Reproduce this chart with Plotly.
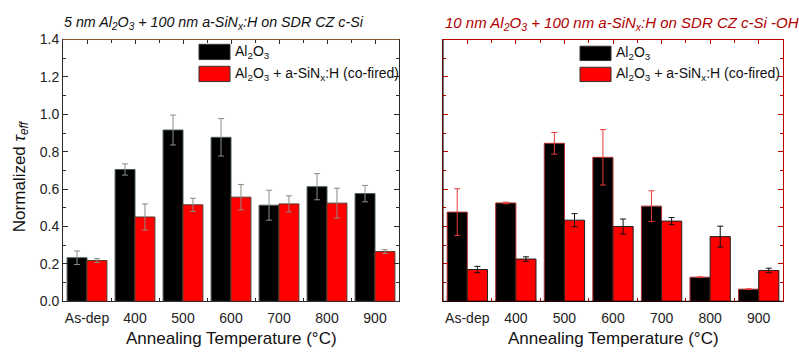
import plotly.graph_objects as go

categories = ["As-dep", "400", "500", "600", "700", "800", "900"]

# Left panel: 5 nm Al2O3
left_al2o3 = [0.233, 0.705, 0.916, 0.877, 0.514, 0.613, 0.576]
left_al2o3_err = [0.036, 0.03, 0.08, 0.10, 0.08, 0.07, 0.044]
left_cofired = [0.218, 0.451, 0.516, 0.557, 0.521, 0.525, 0.266]
left_cofired_err = [0.01, 0.07, 0.035, 0.068, 0.043, 0.08, 0.01]

# Right panel: 10 nm Al2O3, -OH
right_al2o3 = [0.477, 0.526, 0.845, 0.770, 0.509, 0.129, 0.065]
right_al2o3_err = [0.125, 0.004, 0.058, 0.148, 0.082, 0.002, 0.002]
right_cofired = [0.170, 0.226, 0.434, 0.400, 0.429, 0.346, 0.165]
right_cofired_err = [0.017, 0.012, 0.035, 0.04, 0.019, 0.056, 0.012]

yticks = [0.0, 0.2, 0.4, 0.6, 0.8, 1.0, 1.2, 1.4]

W, H = 799, 359
def px(x):
    return x / W
def py(y):
    return 1 - y / H

xpos = list(range(len(categories)))
FONT = "Liberation Sans, Arial, sans-serif"
RED = "#ff0000"

fig = go.Figure()

fig.add_trace(go.Bar(x=xpos, y=left_al2o3, marker=dict(color="#000000", line=dict(color="#4a5a55", width=1)),
                     error_y=dict(type="data", array=left_al2o3_err, color="#8a9088", thickness=1, width=3),
                     xaxis="x", yaxis="y", showlegend=False))
fig.add_trace(go.Bar(x=xpos, y=left_cofired, marker=dict(color=RED, line=dict(color="#5a3a2a", width=1)),
                     error_y=dict(type="data", array=left_cofired_err, color="#8a8a80", thickness=1, width=3),
                     xaxis="x", yaxis="y", showlegend=False))
fig.add_trace(go.Bar(x=xpos, y=right_al2o3, marker=dict(color="#000000", line=dict(color="#b03030", width=1)),
                     error_y=dict(type="data", array=right_al2o3_err, color="#e83a3a", thickness=1, width=3),
                     xaxis="x2", yaxis="y2", showlegend=False))
fig.add_trace(go.Bar(x=xpos, y=right_cofired, marker=dict(color=RED, line=dict(color="#202020", width=1)),
                     error_y=dict(type="data", array=right_cofired_err, color="#111111", thickness=1, width=3),
                     xaxis="x2", yaxis="y2", showlegend=False))

ydom = [py(307), py(33)]
common_x = dict(range=[-0.5, 6.5], tickvals=xpos, ticktext=categories, ticks="inside", ticklen=4,
                showline=True, mirror="allticks", showgrid=False, zeroline=False,
                tickfont=dict(family=FONT, size=14, color="#222"), ticklabelstandoff=4,
                minor=dict(dtick=0.5, tick0=0, ticks="inside", ticklen=3, showgrid=False),
                layer="below traces")
common_y = dict(range=[0, 1.4], tickvals=yticks, ticks="inside", ticklen=5, showline=True,
                mirror="allticks", showgrid=False, zeroline=False,
                minor=dict(dtick=0.1, tick0=0, ticks="inside", ticklen=3, showgrid=False),
                domain=ydom)

fig.update_layout(
    width=W, height=H, margin=dict(l=0, r=0, t=0, b=0),
    paper_bgcolor="white", plot_bgcolor="white",
    barmode="group", bargap=0.17, bargroupgap=0,
    font=dict(family=FONT, color="#111"),
    xaxis=dict(domain=[px(63), px(399)], anchor="y", linecolor="#2a2a2a", tickcolor="#2a2a2a",
               **common_x),
    yaxis=dict(anchor="x", linecolor="#2a2a2a", tickcolor="#2a2a2a", tickformat=".1f",
               tickfont=dict(family=FONT, size=14, color="#222"), **common_y),
    xaxis2=dict(domain=[px(443), px(783)], anchor="y2", linecolor="#c00000", tickcolor="#c00000",
                **common_x),
    yaxis2=dict(anchor="x2", linecolor="#c00000", tickcolor="#c00000", showticklabels=False,
                **common_y),
)

# frame tweaks: brownish top line on left, black left/bottom lines on right panel
fig.add_shape(type="line", xref="x domain", yref="y domain", x0=0, x1=1, y0=1, y1=1,
              line=dict(color="#8b5a2b", width=1))
fig.add_shape(type="line", xref="x2 domain", yref="y2 domain", x0=0, x1=0, y0=0, y1=1,
              line=dict(color="#000000", width=1))
fig.add_shape(type="line", xref="x2 domain", yref="y2 domain", x0=0, x1=1, y0=0, y1=0,
              line=dict(color="#000000", width=1))

# titles
fig.add_annotation(text="<i>5 nm Al<sub>2</sub>O<sub>3</sub> + 100 nm a-SiN<sub>x</sub>:H on SDR CZ c-Si</i>",
                   xref="paper", yref="paper", x=px(62), y=py(16), xanchor="left", yanchor="middle",
                   showarrow=False, font=dict(family=FONT, size=14.3, color="#111"))
fig.add_annotation(text="<i>10 nm Al<sub>2</sub>O<sub>3</sub> + 100 nm a-SiN<sub>x</sub>:H on SDR CZ c-Si -OH</i>",
                   xref="paper", yref="paper", x=px(443), y=py(16), xanchor="left", yanchor="middle",
                   showarrow=False, font=dict(family=FONT, size=15, color="#b00000"))

# axis titles
fig.add_annotation(text="Normalized <i>τ<sub>eff</sub></i>", textangle=-90,
                   xref="paper", yref="paper", x=px(21), y=py(176), xanchor="center", yanchor="middle",
                   showarrow=False, font=dict(family=FONT, size=17, color="#111"))
for cx in (232, 613):
    fig.add_annotation(text="Annealing Temperature (°C)", xref="paper", yref="paper",
                       x=px(cx), y=py(346), xanchor="center", yanchor="middle",
                       showarrow=False, font=dict(family=FONT, size=17, color="#111"))

# legends
legend_items = [
    (199, 230, 38, 54, "#000000", "Al<sub>2</sub>O<sub>3</sub>", 233),
    (199, 230, 61, 77, RED, "Al<sub>2</sub>O<sub>3</sub> + a-SiN<sub>x</sub>:H (co-fired)", 233),
    (580, 611, 40, 55, "#000000", "Al<sub>2</sub>O<sub>3</sub>", 614),
    (580, 611, 62, 77, RED, "Al<sub>2</sub>O<sub>3</sub> + a-SiN<sub>x</sub>:H (co-fired)", 614),
]
for x0, x1, y0, y1, col, label, tx in legend_items:
    fig.add_shape(type="rect", xref="paper", yref="paper", x0=px(x0), x1=px(x1), y0=py(y1), y1=py(y0),
                  fillcolor=col, line=dict(color="#333333", width=1))
    fig.add_annotation(text=label, xref="paper", yref="paper", x=px(tx), y=py((y0 + y1) / 2),
                       xanchor="left", yanchor="middle", showarrow=False,
                       font=dict(family=FONT, size=14, color="#111"))

fig.write_html("out.html")
